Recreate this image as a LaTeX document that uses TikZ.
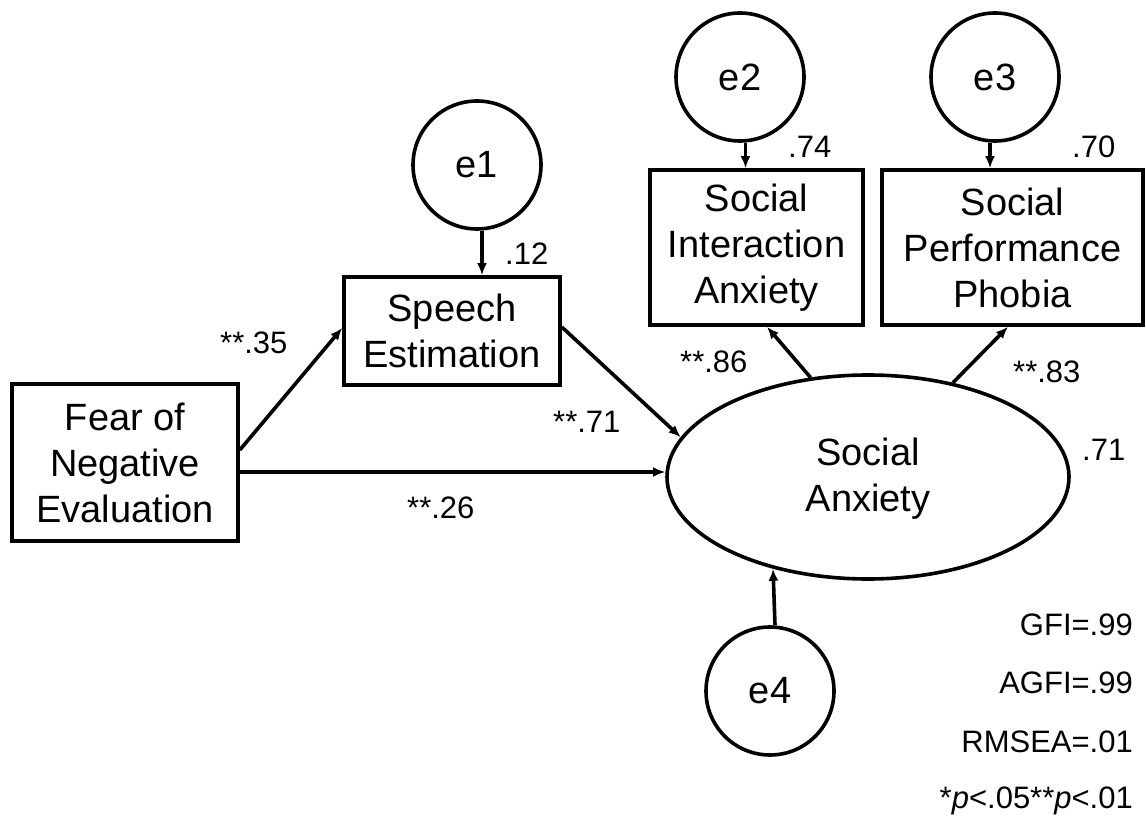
\documentclass[tikz,border=0pt]{standalone}
\usepackage{fontspec}
\setmainfont{Liberation Sans}
\usetikzlibrary{arrows.meta,shapes.geometric}

\tikzset{
  box/.style={draw, line width=3.6pt, rectangle, inner sep=0pt, align=center,
              font=\fontsize{38}{46}\selectfont},
  latent/.style={draw, line width=3.6pt, ellipse, inner sep=0pt, align=center,
              font=\fontsize{38}{46}\selectfont},
  err/.style={draw, line width=3.6pt, circle, inner sep=0pt, minimum size=128pt,
              font=\fontsize{38}{46}\selectfont},
  arr/.style={line width=3.6pt, -{Latex[length=12pt,width=10pt]}},
  coef/.style={inner sep=0pt, font=\fontsize{31}{36}\selectfont},
}

\begin{document}
\begin{tikzpicture}[x=1pt,y=-1pt]
\useasboundingbox (0,0) rectangle (1146,818);

% observed variables
\node[box, minimum width=226pt, minimum height=157pt] (fear) at (125,462.5)
  {Fear of\\Negative\\Evaluation};
\node[box, minimum width=216pt, minimum height=108pt] (speech) at (452,331)
  {Speech\\Estimation};
\node[box, minimum width=213pt, minimum height=155pt] (sia) at (756.5,247.5)
  {Social\\Interaction\\Anxiety};
\node[box, minimum width=261pt, minimum height=155pt] (spp) at (1012.5,247.5)
  {Social\\Performance\\Phobia};

% latent variable
\node[latent, minimum width=402pt, minimum height=204pt] (sa) at (868,477)
  {\rule{0pt}{30pt}Social\\Anxiety};

% error terms
\node[err] (e1) at (477,165) {e1};
\node[err] (e2) at (740,77) {e2};
\node[err] (e3) at (995,77) {e3};
\node[err] (e4) at (770,691) {e4};

% paths
\draw[arr] ([yshift=12.5pt]fear.east) -- ([yshift=3pt]speech.west);
\draw[arr] ([yshift=-9.5pt]fear.east) -- ([yshift=-9.5pt]fear.east -| sa.west);
\draw[arr] ([yshift=4pt]speech.east) -- (sa.168);
\draw[arr] (sa.120) -- ([xshift=10.5pt]sia.south);
\draw[arr] (sa.48) -- ([xshift=-4.5pt]spp.south);

\draw[arr] ([xshift=5pt]e1.south) -- ([xshift=5pt]e1.south |- speech.north);
\draw[arr] ([xshift=5.5pt]e2.south) -- ([xshift=5.5pt]e2.south |- sia.north);
\draw[arr] ([xshift=-5pt]e3.south) -- ([xshift=-5pt]e3.south |- spp.north);
\draw[arr] ([xshift=5pt]e4.north) -- (sa.224);

% coefficients
\node[coef, anchor=base west] (c35) at (220,353) {**.35};
\node[coef, anchor=base west] (c71a) at (553,432) {**.71};
\node[coef, anchor=base west] (c26) at (407,518) {**.26};
\node[coef, anchor=base west] (r12) at (505,265) {.12};
\node[coef, anchor=base west] (r74) at (788,158) {.74};
\node[coef, anchor=base west] (r70) at (1072,158) {.70};
\node[coef, anchor=base west] (c86) at (680,372) {**.86};
\node[coef, anchor=base west] (c83) at (1013,382) {**.83};
\node[coef, anchor=base west] (r71) at (1082,460) {.71};

% fit indices
\node[coef, anchor=base east] (gfi) at (1133,635) {GFI=.99};
\node[coef, anchor=base east] (agfi) at (1133,693) {AGFI=.99};
\node[coef, anchor=base east] (rmsea) at (1133,752) {RMSEA=.01};
\node[coef, anchor=base east] (sig) at (1133,808) {*\textit{p}<.05**\textit{p}<.01};
\end{tikzpicture}
\end{document}
